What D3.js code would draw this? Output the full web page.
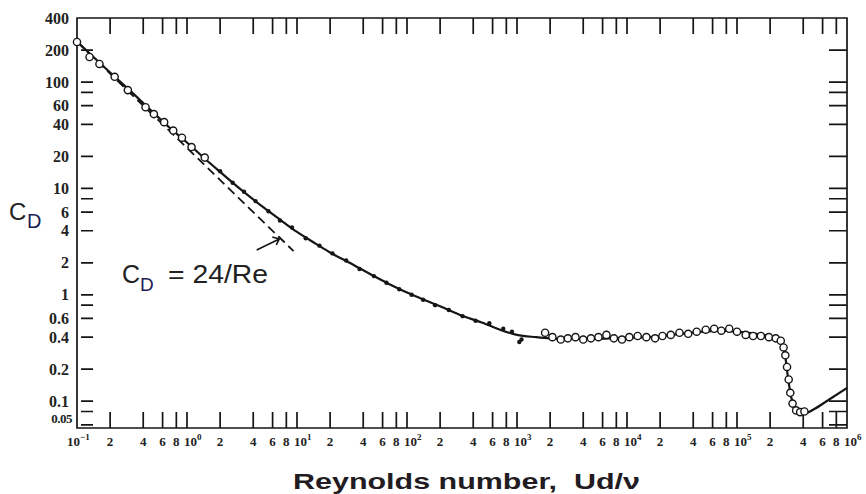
<!DOCTYPE html>
<html>
<head>
<meta charset="utf-8">
<script src="https://cdn.jsdelivr.net/npm/d3@7"></script>
<style>
  body { margin: 0; background: #fff; }
  svg { display: block; }
</style>
</head>
<body>
<svg id="chart" width="866" height="494"></svg>
<script>
// sphere drag curve
var curveRe = [0.1, 0.15, 0.2, 0.3, 0.5, 0.7, 1, 1.5, 2, 3, 5, 7, 10, 15, 20, 30, 50, 70, 100, 150, 200, 300, 500, 700, 1000,
  1500, 2000, 3000, 5000, 7000, 1e4, 1.5e4, 2e4, 3e4, 5e4, 7e4, 1e5, 1.5e5, 2e5, 2.5e5, 2.7e5, 2.9e5, 3.1e5, 3.4e5, 3.8e5,
  4.3e5, 5e5, 7e5, 1e6];
var curveCd = [240, 162, 123, 84, 51, 37, 27, 18.5, 14.3, 10, 6.6, 5.1, 3.9, 3.0, 2.5, 2.0, 1.5, 1.25, 1.05, 0.88, 0.78, 0.65, 0.54, 0.47, 0.42,
  0.40, 0.39, 0.385, 0.385, 0.39, 0.395, 0.40, 0.41, 0.43, 0.45, 0.46, 0.45, 0.43, 0.41, 0.38, 0.30, 0.17, 0.11, 0.088, 0.080,
  0.078, 0.084, 0.105, 0.133];

var circleRe = [0.1, 0.13, 0.16, 0.22, 0.29, 0.42, 0.5, 0.62, 0.75, 0.9, 1.1, 1.45,
  1800, 2100, 2500, 2900, 3400, 4000, 4700, 5500, 6500, 7600, 9000, 10500, 12500, 15000, 18000, 21000, 25000, 30000,
  36000, 43000, 52000, 62000, 72000, 85000, 100000, 120000, 140000, 165000, 195000, 225000, 250000, 265000, 275000,
  285000, 295000, 305000, 320000, 345000, 375000, 410000];
var circleCd = [238, 172, 148, 112, 84, 58, 50, 42, 35, 30, 24.5, 19.5,
  0.44, 0.40, 0.38, 0.39, 0.40, 0.38, 0.39, 0.40, 0.42, 0.39, 0.38, 0.40, 0.41, 0.40, 0.39, 0.41, 0.42, 0.44,
  0.43, 0.45, 0.47, 0.48, 0.46, 0.48, 0.45, 0.42, 0.41, 0.41, 0.40, 0.39, 0.37, 0.32, 0.27,
  0.21, 0.16, 0.12, 0.095, 0.082, 0.079, 0.08];

var dotRe = [2, 2.6, 3.3, 4.2, 5.5, 7, 9, 12, 16, 21, 28, 37, 50, 65, 85, 110, 140, 180, 240, 320, 420, 560, 750, 900, 1050, 1100];
var dotCd = [14.5, 11.3, 9.3, 7.6, 6.1, 5.0, 4.3, 3.4, 2.9, 2.45, 2.1, 1.75, 1.5, 1.3, 1.13, 1.0, 0.9, 0.8, 0.72, 0.63, 0.57, 0.54, 0.48, 0.45, 0.36, 0.38];

// Stokes line CD = 24/Re and its pointer
var stokesRe = [0.1, 9.3];
var stokesCd = [240, 2.58];
var arrowRe = [4.3, 6.9];
var arrowCd = [2.64, 3.35];

var xDecades = [-1, 0, 1, 2, 3, 4, 5, 6];
var xMinor = [2, 4, 6, 8];
var yDomain = [0.056, 400];
var yTickMarks = [0.06, 0.08, 0.1, 0.2, 0.4, 0.6, 0.8, 1, 2, 4, 6, 8, 10, 20, 40, 60, 80, 100, 200];
var yLabelValues = [200, 100, 60, 40, 20, 10, 6, 4, 2, 1, 0.6, 0.4, 0.2, 0.1];

(function() {
  var svg = d3.select('#chart');
  var left = 77, right = 847, plotTop = 18, plotBottom = 428;

  var x = d3.scaleLog().domain([0.1, 1e6]).range([left, right]);
  var y = d3.scaleLog().domain(yDomain).range([plotBottom, plotTop]);

  var ink = '#151515';

  // x tick positions: every decade plus 2,4,6,8
  var xTicks = [];
  xDecades.forEach(function(d) {
    xTicks.push({v: Math.pow(10, d), decade: d});
    if (d < 6) {
      xMinor.forEach(function(m) {
        xTicks.push({v: m * Math.pow(10, d), label: String(m)});
      });
    }
  });
  var innerTicks = xTicks
    .filter(function(t) { return t.v > 0.11 && t.v < 9e5; })
    .map(function(t) { return t.v; });

  var g = svg.append('g');

  // frame and inward ticks as one path
  var p = d3.path();
  p.rect(left, plotTop, right - left, plotBottom - plotTop);
  innerTicks.forEach(function(v) {
    p.moveTo(x(v), plotBottom); p.lineTo(x(v), plotBottom - 16);
    p.moveTo(x(v), plotTop); p.lineTo(x(v), plotTop + 16);
  });
  yTickMarks.forEach(function(v) {
    p.moveTo(left + 4, y(v)); p.lineTo(left + 16, y(v));
    p.moveTo(right, y(v)); p.lineTo(right - 18, y(v));
  });
  g.append('path')
    .attr('d', p.toString())
    .attr('fill', 'none').attr('stroke', ink).attr('stroke-width', 1.7);

  // x tick labels
  var xl = g.append('g')
    .attr('font-family', 'Liberation Serif, DejaVu Serif, serif')
    .attr('font-weight', 'bold')
    .attr('font-size', 13)
    .attr('fill', '#222');

  xTicks.forEach(function(t) {
    if (t.decade !== undefined) {
      var txt = xl.append('text')
        .attr('x', x(t.v) + (t.decade === -1 ? -10 : -3))
        .attr('y', 446);
      txt.append('tspan').text('10');
      txt.append('tspan').attr('dy', -6).attr('font-size', 9)
        .text(t.decade === -1 ? '\u22121' : String(t.decade));
    } else {
      xl.append('text')
        .attr('x', x(t.v)).attr('y', 446)
        .attr('text-anchor', 'middle')
        .text(t.label);
    }
  });

  // y tick labels
  var yl = g.append('g')
    .attr('font-family', 'Liberation Serif, DejaVu Serif, serif')
    .attr('font-weight', 'bold')
    .attr('font-size', 16)
    .attr('fill', '#222')
    .attr('text-anchor', 'end');

  yl.selectAll('text').data(yLabelValues)
    .enter().append('text')
    .attr('x', 69)
    .attr('y', function(d) { return y(d); })
    .attr('dy', '0.35em')
    .text(function(d) { return String(d); });

  yl.append('text').attr('x', 69).attr('y', y(yDomain[1])).attr('dy', '0.35em').text('400');
  yl.append('text').attr('x', 72).attr('y', y(yDomain[0]) - 10).attr('dy', '0.35em')
    .attr('font-size', 13).attr('letter-spacing', -0.5).text('0.05');

  // Stokes dashed line
  g.append('path')
    .datum(d3.range(stokesRe.length))
    .attr('d', d3.line()
      .x(function(i) { return x(stokesRe[i]); })
      .y(function(i) { return y(stokesCd[i]); }))
    .attr('fill', 'none').attr('stroke', ink)
    .attr('stroke-width', 1.8).attr('stroke-dasharray', '9,5');

  // main curve
  g.append('path')
    .datum(d3.range(curveRe.length))
    .attr('d', d3.line()
      .x(function(i) { return x(curveRe[i]); })
      .y(function(i) { return y(curveCd[i]); })
      .curve(d3.curveMonotoneX))
    .attr('fill', 'none').attr('stroke', ink)
    .attr('stroke-width', 2.2);

  // small filled points
  g.append('g').selectAll('circle').data(d3.range(dotRe.length))
    .enter().append('circle')
    .attr('cx', function(i) { return x(dotRe[i]); })
    .attr('cy', function(i) { return y(dotCd[i]); })
    .attr('r', 2.2)
    .attr('fill', ink);

  // open circles
  g.append('g').selectAll('circle').data(d3.range(circleRe.length))
    .enter().append('circle')
    .attr('cx', function(i) { return x(circleRe[i]); })
    .attr('cy', function(i) { return y(circleCd[i]); })
    .attr('r', 3.6)
    .attr('fill', '#fff')
    .attr('stroke', ink)
    .attr('stroke-width', 1.4);

  // pointer from the label to the dashed line
  var ax0 = x(arrowRe[0]), ay0 = y(arrowCd[0]);
  var ax1 = x(arrowRe[1]), ay1 = y(arrowCd[1]);
  g.append('path')
    .attr('d', 'M' + ax0 + ',' + ay0 + 'L' + ax1 + ',' + ay1 +
      'M' + (ax1 - 7) + ',' + (ay1 - 2) + 'L' + ax1 + ',' + ay1 + 'L' + (ax1 - 3) + ',' + (ay1 + 6))
    .attr('fill', 'none').attr('stroke', ink).attr('stroke-width', 1.6);

  // annotation
  var ann = g.append('g').attr('font-family', 'Liberation Sans, Arial, sans-serif');
  ann.append('text').attr('x', 122).attr('y', 283).attr('font-size', 25).attr('fill', '#222').text('C');
  ann.append('text').attr('x', 140).attr('y', 291).attr('font-size', 19).attr('fill', '#1b1b55').text('D');
  ann.append('text').attr('x', 168).attr('y', 283).attr('font-size', 25).attr('fill', '#222')
    .attr('textLength', 100).attr('lengthAdjust', 'spacingAndGlyphs')
    .text('= 24/Re');

  // y axis title
  ann.append('text').attr('x', 9).attr('y', 220).attr('font-size', 24).attr('fill', '#222').text('C');
  ann.append('text').attr('x', 27).attr('y', 228).attr('font-size', 20).attr('fill', '#1b1b55').text('D');

  // x axis title
  ann.append('text')
    .attr('x', 293).attr('y', 489)
    .attr('font-size', 22).attr('font-weight', 'bold')
    .attr('fill', '#221c22')
    .attr('textLength', 347).attr('lengthAdjust', 'spacingAndGlyphs')
    .style('white-space', 'pre')
    .text('Reynolds number,  Ud/\u03bd');
})();
</script>
</body>
</html>
